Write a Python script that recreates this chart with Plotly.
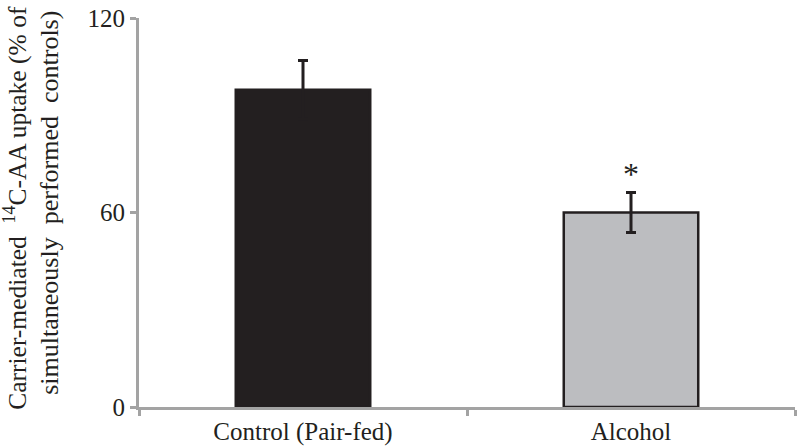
import plotly.graph_objects as go

categories = ["Control (Pair-fed)", "Alcohol"]
values = [97.9, 60.0]
errors = [9.0, 6.2]
bar_colors = ["#231f20", "#bcbdc0"]
y_ticks = [0, 60, 120]
significance = ["", "*"]

INK = "#231f20"
AXIS = "#a3a3a3"
FONT = "Liberation Serif, Times New Roman, serif"

fig = go.Figure()
fig.add_trace(go.Bar(
    x=categories, y=values,
    marker=dict(color=bar_colors, line=dict(color=INK, width=2.5)),
    error_y=dict(type="data", array=errors, visible=True,
                 color=INK, thickness=3, width=5),
    showlegend=False,
))

for cat, v, e, s in zip(categories, values, errors, significance):
    if s:
        fig.add_annotation(x=cat, y=v + e, text=s, showarrow=False,
                           yanchor="bottom", yshift=-2,
                           font=dict(family=FONT, size=32, color=INK))

fig.add_annotation(xref="paper", yref="paper", x=-0.1875, y=0.512,
                   text="Carrier-mediated  <sup>14</sup>C-AA uptake (% of",
                   textangle=-90, showarrow=False, xanchor="center", yanchor="middle",
                   font=dict(family=FONT, size=25.5, color=INK))
fig.add_annotation(xref="paper", yref="paper", x=-0.1357, y=0.525,
                   text="simultaneously  performed  controls)",
                   textangle=-90, showarrow=False, xanchor="center", yanchor="middle",
                   font=dict(family=FONT, size=26, color=INK))

fig.update_layout(
    width=797, height=447,
    margin=dict(l=139, r=2, t=18, b=40, pad=0),
    paper_bgcolor="white", plot_bgcolor="white",
    bargap=0.59,
    font=dict(family=FONT, size=25, color=INK),
)
fig.update_xaxes(type="category", range=[-0.5, 1.5], tickson="boundaries",
                 showline=True, linecolor=AXIS, linewidth=3,
                 ticks="outside", ticklen=6, tickwidth=3, tickcolor=AXIS,
                 showgrid=False, zeroline=False,
                 tickfont=dict(family=FONT, size=25, color=INK))
fig.update_yaxes(range=[0, 120], tickvals=y_ticks,
                 showline=True, linecolor=AXIS, linewidth=3,
                 ticks="outside", ticklen=6, tickwidth=3, tickcolor=AXIS,
                 showgrid=False, zeroline=False,
                 tickfont=dict(family=FONT, size=25, color=INK))

fig.write_html("out.html", config={"displayModeBar": False},
               post_script="document.body.style.margin='0px';")
